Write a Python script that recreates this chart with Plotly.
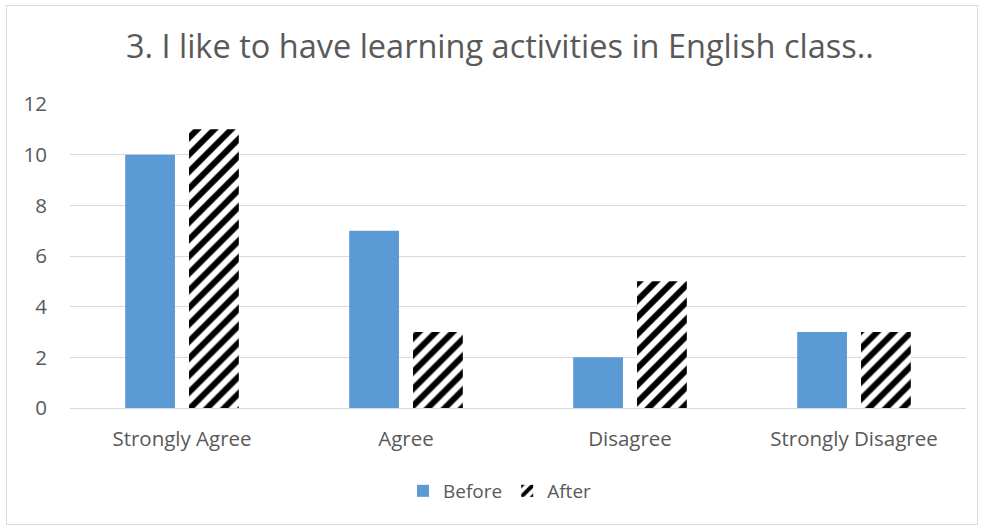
import plotly.graph_objects as go

categories = ["Strongly Agree", "Agree", "Disagree", "Strongly Disagree"]
before = [10, 7, 2, 3]
after = [11, 3, 5, 3]
y_ticks = [0, 2, 4, 6, 8, 10, 12]

W, H = 982, 529
L, R, T, B = 70, 16, 104, 121
plot_w = W - L - R
plot_h = H - T - B

def px_to_paper_x(px):
    return (px - L) / plot_w

def px_to_paper_y(py):
    return (H - B - py) / plot_h

text_color = "#595959"
grid_color = "#D9D9D9"
font_family = "'Open Sans', sans-serif"

fig = go.Figure()
fig.add_trace(go.Bar(
    x=categories, y=before, name="Before",
    marker=dict(color="#5B9BD5", line=dict(width=0)),
))
fig.add_trace(go.Bar(
    x=categories, y=after, name="After",
    marker=dict(
        color="white",
        line=dict(width=0),
        pattern=dict(shape="/", fgcolor="black", bgcolor="white", fgopacity=1,
                     size=12, solidity=0.5, fillmode="replace"),
    ),
))

fig.update_layout(
    width=W, height=H,
    margin=dict(l=L, r=R, t=T, b=B),
    paper_bgcolor="white", plot_bgcolor="white",
    barmode="group", bargap=0.43, bargroupgap=0.22,
    font=dict(family=font_family, color=text_color, size=20),
    title=dict(
        text="3. I like to have learning activities in English class..",
        x=0.509, xref="container", xanchor="center",
        y=1 - 47 / H, yref="container", yanchor="middle",
        font=dict(size=32.5, color=text_color, family=font_family),
    ),
    showlegend=True,
    legend=dict(
        orientation="h", x=px_to_paper_x(500), xanchor="center",
        y=px_to_paper_y(491), yanchor="middle",
        font=dict(size=19, color=text_color), itemwidth=30,
        bgcolor="rgba(0,0,0,0)",
    ),
    xaxis=dict(
        showgrid=False, showline=True, linecolor=grid_color, linewidth=1,
        ticks="", ticklabelstandoff=12, tickfont=dict(size=20.5, color=text_color),
    ),
    yaxis=dict(
        range=[0, 12], tickvals=y_ticks, showgrid=True, gridcolor=grid_color, gridwidth=1,
        zeroline=False, showline=False, ticks="", ticklabelstandoff=22,
        tickfont=dict(size=20.5, color=text_color),
    ),
    shapes=[dict(
        type="rect", xref="paper", yref="paper",
        x0=px_to_paper_x(6.5), x1=px_to_paper_x(977.5),
        y0=px_to_paper_y(524.5), y1=px_to_paper_y(5.5),
        line=dict(color=grid_color, width=1), fillcolor="rgba(0,0,0,0)",
        layer="below",
    )],
)

fig.write_html("out.html")
